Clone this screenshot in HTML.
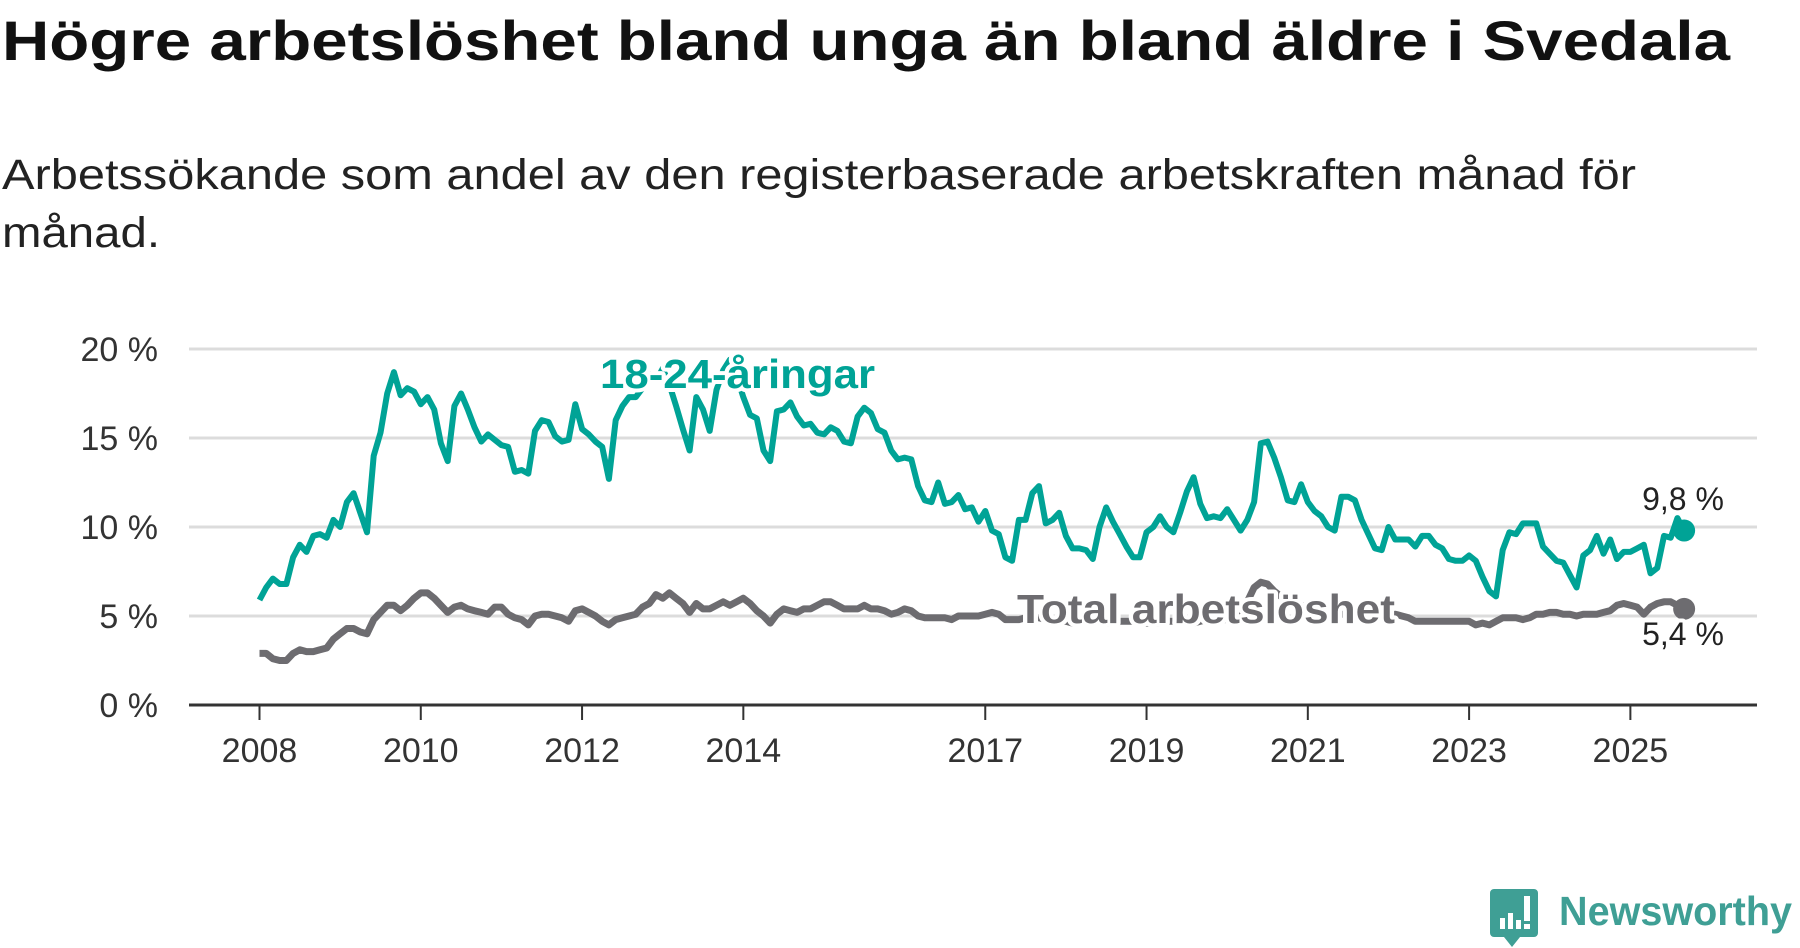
<!DOCTYPE html>
<html><head><meta charset="utf-8"><style>
html,body{margin:0;padding:0;background:#fff;}
svg{display:block;font-family:"Liberation Sans","DejaVu Sans",sans-serif;}
</style></head><body>
<svg id="chart" width="1800" height="948" viewBox="0 0 1800 948">
<text x="2" y="60" font-size="56" font-weight="bold" fill="#111" textLength="1728" lengthAdjust="spacingAndGlyphs">Högre arbetslöshet bland unga än bland äldre i Svedala</text>
<text x="2" y="189" font-size="43" fill="#222" textLength="1634" lengthAdjust="spacingAndGlyphs">Arbetssökande som andel av den registerbaserade arbetskraften månad för</text>
<text x="2" y="247" font-size="43" fill="#222" textLength="158" lengthAdjust="spacingAndGlyphs">månad.</text>
<g id="grid"></g>
<g id="series"></g>
<g id="labels"></g>
<g>
<path d="M1494 889 h40 a4 4 0 0 1 4 4 v40 a4 4 0 0 1 -4 4 h-14 l-8 10 l-8 -10 h-10 a4 4 0 0 1 -4 -4 v-40 a4 4 0 0 1 4 -4z" fill="#3f9f95"/>
<rect x="1500" y="918" width="5" height="11" fill="#fff"/><rect x="1508" y="913" width="5" height="16" fill="#fff"/><rect x="1516" y="920" width="5" height="9" fill="#fff"/><rect x="1524" y="896" width="6" height="25" fill="#fff"/><rect x="1524" y="924" width="6" height="5" fill="#fff"/>
<text x="1559" y="925" font-size="41" font-weight="bold" fill="#3f9f95" textLength="233" lengthAdjust="spacingAndGlyphs">Newsworthy</text>
</g>
</svg>
<script>
const youth = [5.9,6.6,7.1,6.8,6.8,8.3,9.0,8.6,9.5,9.6,9.4,10.4,10.0,11.4,11.9,10.8,9.7,14.0,15.3,17.5,18.7,17.4,17.8,17.6,16.9,17.3,16.6,14.7,13.7,16.8,17.5,16.6,15.6,14.8,15.2,14.9,14.6,14.5,13.1,13.2,13.0,15.4,16.0,15.9,15.1,14.8,14.9,16.9,15.5,15.2,14.8,14.5,12.7,16.0,16.8,17.3,17.3,17.8,18.6,18.2,18.9,18.0,16.8,15.5,14.3,17.3,16.6,15.4,17.7,18.8,19.4,18.5,17.3,16.3,16.1,14.3,13.7,16.5,16.6,17.0,16.2,15.7,15.8,15.3,15.2,15.6,15.4,14.8,14.7,16.2,16.7,16.4,15.5,15.3,14.3,13.8,13.9,13.8,12.3,11.5,11.4,12.5,11.3,11.4,11.8,11.0,11.1,10.3,10.9,9.8,9.6,8.3,8.1,10.4,10.4,11.9,12.3,10.2,10.4,10.8,9.5,8.8,8.8,8.7,8.2,10.0,11.1,10.3,9.6,8.9,8.3,8.3,9.7,10.0,10.6,10.0,9.7,10.8,12.0,12.8,11.3,10.5,10.6,10.5,11.0,10.4,9.8,10.4,11.4,14.7,14.8,13.9,12.8,11.5,11.4,12.4,11.4,10.9,10.6,10.0,9.8,11.7,11.7,11.5,10.4,9.6,8.8,8.7,10.0,9.3,9.3,9.3,8.9,9.5,9.5,9.0,8.8,8.2,8.1,8.1,8.4,8.1,7.2,6.4,6.1,8.7,9.7,9.6,10.2,10.2,10.2,8.9,8.5,8.1,8.0,7.3,6.6,8.4,8.7,9.5,8.5,9.3,8.2,8.6,8.6,8.8,9.0,7.4,7.7,9.5,9.4,10.5,9.8];
const total = [2.9,2.9,2.6,2.5,2.5,2.9,3.1,3.0,3.0,3.1,3.2,3.7,4.0,4.3,4.3,4.1,4.0,4.8,5.2,5.6,5.6,5.3,5.6,6.0,6.3,6.3,6.0,5.6,5.2,5.5,5.6,5.4,5.3,5.2,5.1,5.5,5.5,5.1,4.9,4.8,4.5,5.0,5.1,5.1,5.0,4.9,4.7,5.3,5.4,5.2,5.0,4.7,4.5,4.8,4.9,5.0,5.1,5.5,5.7,6.2,6.0,6.3,6.0,5.7,5.2,5.7,5.4,5.4,5.6,5.8,5.6,5.8,6.0,5.7,5.3,5.0,4.6,5.1,5.4,5.3,5.2,5.4,5.4,5.6,5.8,5.8,5.6,5.4,5.4,5.4,5.6,5.4,5.4,5.3,5.1,5.2,5.4,5.3,5.0,4.9,4.9,4.9,4.9,4.8,5.0,5.0,5.0,5.0,5.1,5.2,5.1,4.8,4.8,4.8,4.9,4.9,4.9,4.8,4.8,4.7,4.7,4.6,4.6,4.7,4.7,4.7,4.6,4.6,4.7,4.7,4.7,4.7,4.6,4.6,4.6,4.7,4.7,4.7,4.6,4.6,4.7,4.8,4.8,4.8,4.8,4.8,4.9,5.8,6.6,6.9,6.8,6.4,6.1,5.9,5.7,5.6,5.5,5.4,5.3,5.2,5.2,5.1,5.1,5.0,5.0,5.0,4.9,4.9,5.0,5.1,5.0,4.9,4.7,4.7,4.7,4.7,4.7,4.7,4.7,4.7,4.7,4.5,4.6,4.5,4.7,4.9,4.9,4.9,4.8,4.9,5.1,5.1,5.2,5.2,5.1,5.1,5.0,5.1,5.1,5.1,5.2,5.3,5.6,5.7,5.6,5.5,5.1,5.5,5.7,5.8,5.8,5.6,5.4];
const yTicks = [0,5,10,15,20];
const yTickLabels = ["0 %","5 %","10 %","15 %","20 %"];
const xTickYears = [2008,2010,2012,2014,2017,2019,2021,2023,2025];
const startYear = 2008;

const NS = "http://www.w3.org/2000/svg";
const X0 = 259.5, PXM = 6.72, Y0 = 705, PXP = 17.8;
function xScale(i){ return X0 + i*PXM; }
function yScale(v){ return Y0 - v*PXP; }
function mk(tag, attrs, parent){ const e=document.createElementNS(NS,tag); for(const k in attrs) e.setAttribute(k,attrs[k]); parent.appendChild(e); return e; }
const grid=document.getElementById('grid'), series=document.getElementById('series'), labels=document.getElementById('labels');

yTicks.forEach((t,i)=>{
  if(t!==0){
    const g=mk('line',{x1:189,x2:1757,y1:yScale(t),y2:yScale(t),stroke:'#dcdcdc','stroke-width':3},grid);
    
    
  }
  const tx=mk('text',{x:158,y:yScale(t)+12,'font-size':34,fill:'#333','text-anchor':'end'},grid);
  tx.textContent=yTickLabels[i];
  
  
});
const ax=mk('line',{x1:189,x2:1757,y1:Y0,y2:Y0,stroke:'#333','stroke-width':3},grid);


xTickYears.forEach(yr=>{
  const x=xScale((yr-startYear)*12);
  const tk=mk('line',{x1:x,x2:x,y1:Y0,y2:Y0+15,stroke:'#333','stroke-width':2},grid);
  
  
  const tx=mk('text',{x:x,y:762,'font-size':34,fill:'#333','text-anchor':'middle'},grid);
  tx.textContent=yr;
  
  
});
function pathOf(arr){ return arr.map((v,i)=>(i?'L':'M')+xScale(i).toFixed(1)+' '+yScale(v).toFixed(1)).join(' '); }
const pt=mk('path',{d:pathOf(total),fill:'none',stroke:'#6d6c70','stroke-width':7,'stroke-linejoin':'round'},series);


const py=mk('path',{d:pathOf(youth),fill:'none',stroke:'#00a396','stroke-width':6,'stroke-linejoin':'round'},series);


const ly=youth.length-1, lt=total.length-1;
const dy=mk('circle',{cx:xScale(ly),cy:yScale(youth[ly]),r:11,fill:'#00a396'},series);


const dt=mk('circle',{cx:xScale(lt),cy:yScale(total[lt]),r:11,fill:'#6d6c70'},series);


function lab(txt,x,y,size,weight,fill,anchor,name,len){
  const extra = len ? {textLength:len,lengthAdjust:'spacingAndGlyphs'} : {};
  const h=mk('text',Object.assign({x:x,y:y,'font-size':size,'font-weight':weight,fill:'none',stroke:'#fff','stroke-width':8,'stroke-linejoin':'round','text-anchor':anchor},extra),labels);
  h.textContent=txt;
  const t=mk('text',Object.assign({x:x,y:y,'font-size':size,'font-weight':weight,fill:fill,'text-anchor':anchor},extra),labels);
  t.textContent=txt;
  
  
}
lab('18-24-åringar',600,388,41,'bold','#00a396','start','youth-series-label',275);
lab('Total arbetslöshet',1017,623,41,'bold','#6d6c70','start','total-series-label',378);
lab(String(youth[ly]).replace('.',',')+' %',1683,510,32,'normal','#222','middle','youth-end-value');
lab(String(total[lt]).replace('.',',')+' %',1683,645,32,'normal','#222','middle','total-end-value');
</script>
</body></html>
